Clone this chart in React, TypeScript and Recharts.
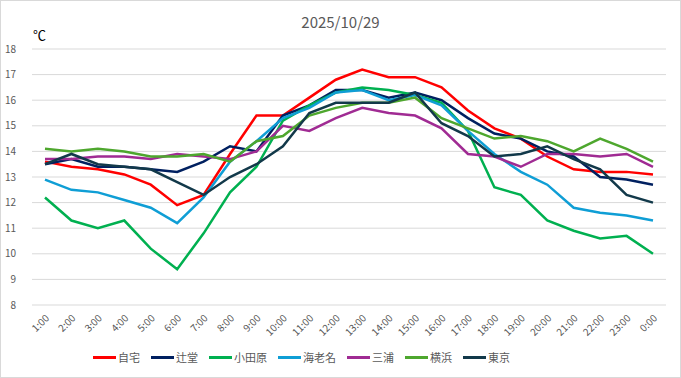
import * as React from "react";
import { LineChart, Line, XAxis, YAxis, CartesianGrid, Legend } from "recharts";

const hours = [
  "1:00", "2:00", "3:00", "4:00", "5:00", "6:00", "7:00", "8:00", "9:00", "10:00", "11:00", "12:00",
  "13:00", "14:00", "15:00", "16:00", "17:00", "18:00", "19:00", "20:00", "21:00", "22:00", "23:00", "0:00",
];

const jitaku = [13.6, 13.4, 13.3, 13.1, 12.7, 11.9, 12.3, 13.9, 15.4, 15.4, 16.1, 16.8, 17.2, 16.9, 16.9, 16.5, 15.6, 14.9, 14.5, 13.8, 13.3, 13.2, 13.2, 13.1];
const tsujido = [13.5, 13.7, 13.4, 13.4, 13.3, 13.2, 13.6, 14.2, 14.0, 15.4, 15.8, 16.4, 16.4, 16.1, 16.3, 16.0, 15.3, 14.7, 14.5, 14.0, 13.8, 13.0, 12.9, 12.7];
const odawara = [12.2, 11.3, 11.0, 11.3, 10.2, 9.4, 10.8, 12.4, 13.4, 15.2, 15.8, 16.3, 16.5, 16.4, 16.2, 15.9, 14.8, 12.6, 12.3, 11.3, 10.9, 10.6, 10.7, 10.0];
const ebina = [12.9, 12.5, 12.4, 12.1, 11.8, 11.2, 12.2, 13.6, 14.4, 15.3, 15.7, 16.3, 16.4, 16.0, 16.2, 15.8, 14.8, 13.9, 13.2, 12.7, 11.8, 11.6, 11.5, 11.3];
const miura = [13.7, 13.7, 13.8, 13.8, 13.7, 13.9, 13.8, 13.7, 14.0, 15.0, 14.8, 15.3, 15.7, 15.5, 15.4, 14.9, 13.9, 13.8, 13.4, 13.9, 13.9, 13.8, 13.9, 13.4];
const yokohama = [14.1, 14.0, 14.1, 14.0, 13.8, 13.8, 13.9, 13.6, 14.4, 14.6, 15.4, 15.7, 15.9, 15.9, 16.1, 15.3, 14.9, 14.5, 14.6, 14.4, 14.0, 14.5, 14.1, 13.6];
const tokyo = [13.5, 13.9, 13.5, 13.4, 13.3, 12.8, 12.3, 13.0, 13.5, 14.2, 15.5, 15.9, 15.9, 15.9, 16.3, 15.1, 14.6, 13.8, 13.9, 14.2, 13.7, 13.3, 12.3, 12.0];

const yTicks = [8, 9, 10, 11, 12, 13, 14, 15, 16, 17, 18];

const series = [
  { key: "自宅", values: jitaku, color: "#FF0000" },
  { key: "辻堂", values: tsujido, color: "#002060" },
  { key: "小田原", values: odawara, color: "#00B050" },
  { key: "海老名", values: ebina, color: "#0F9ED5" },
  { key: "三浦", values: miura, color: "#A02B93" },
  { key: "横浜", values: yokohama, color: "#4EA72E" },
  { key: "東京", values: tokyo, color: "#12394A" },
];

const data = hours.map((h, i) => {
  const row: Record<string, any> = { name: h };
  series.forEach((s) => (row[s.key] = s.values[i]));
  return row;
});

const FONT = '"Noto Sans CJK JP", "Noto Sans", sans-serif';

const XTick = (props: any) => {
  const { x, y, payload } = props;
  return (
    <g transform={`translate(${x + 2},${y + 3})`}>
      <text x={0} y={0} dy={4} textAnchor="end" transform="rotate(-45)" fontSize={10} fill="#595959" fontFamily={FONT}>
        {payload.value}
      </text>
    </g>
  );
};

// keep legend in series order (recharts sorts payload by default)
const renderLegend = (props: any) => {
  const payload = [...(props.payload || [])].sort(
    (a: any, b: any) =>
      series.findIndex((s) => s.key === a.value) - series.findIndex((s) => s.key === b.value)
  );
  return (
    <div style={{ display: "flex", alignItems: "center", fontFamily: FONT, fontSize: 11, color: "#595959" }}>
      {payload.map((p: any) => (
        <div key={p.value} style={{ display: "flex", alignItems: "center", marginRight: 11 }}>
          <span style={{ display: "inline-block", width: 23, height: 3, background: p.color, marginRight: 2 }} />
          <span>{p.value}</span>
        </div>
      ))}
    </div>
  );
};

export default function App() {
  return (
    <div
      style={{
        position: "absolute",
        left: 0,
        top: 0,
        width: 681,
        height: 378,
        boxSizing: "border-box",
        border: "1px solid #d9d9d9",
        background: "#fff",
        fontFamily: FONT,
      }}
    >
      <div style={{ position: "absolute", left: 0, width: 679, top: 10, textAlign: "center", fontSize: 15, color: "#595959" }}>
        2025/10/29
      </div>
      <div style={{ position: "absolute", left: 32, top: 24, fontSize: 13, color: "#000" }}>℃</div>
      <LineChart width={679} height={376} data={data} margin={{ top: 48, right: 14, left: 8, bottom: 12 }}>
        <CartesianGrid vertical={false} stroke="#D9D9D9" />
        <XAxis
          dataKey="name"
          interval={0}
          axisLine={false}
          tickLine={false}
          height={40}
          padding={{ left: 13, right: 13 }}
          tick={<XTick />}
        />
        <YAxis
          domain={[8, 18]}
          ticks={yTicks}
          width={23}
          axisLine={false}
          tickLine={false}
          tickMargin={10}
          tick={{ fontSize: 10, fill: "#595959", fontFamily: FONT }}
        />
        <Legend
          height={24}
          content={renderLegend}
          wrapperStyle={{ position: "absolute", left: 92, top: 348, width: 500, height: 20 }}
        />
        {series.map((s) => (
          <Line
            key={s.key}
            type="linear"
            dataKey={s.key}
            stroke={s.color}
            strokeWidth={2.5}
            dot={false}
            isAnimationActive={false}
          />
        ))}
      </LineChart>
    </div>
  );
}
